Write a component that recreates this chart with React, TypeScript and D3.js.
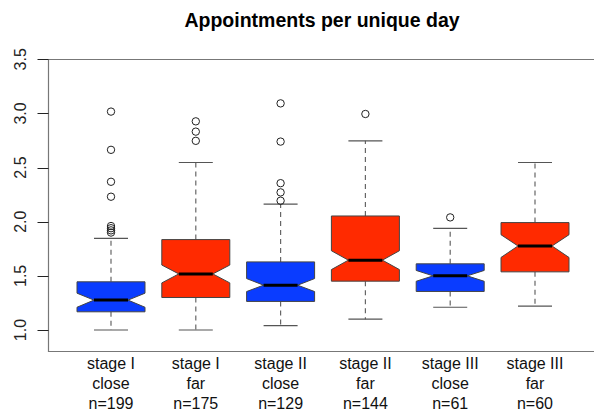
import React from "react";
import * as d3 from "d3";

const categories = ["stage I\nclose", "stage I\nfar", "stage II\nclose", "stage II\nfar", "stage III\nclose", "stage III\nfar"];
const counts = [199, 175, 129, 144, 61, 60];
const groupType = ["close", "far", "close", "far", "close", "far"];
const lowerWhisker = [1.0, 1.0, 1.04, 1.1, 1.21, 1.22];
const q1 = [1.168, 1.3, 1.264, 1.451, 1.356, 1.537];
const notchLo = [1.21, 1.435, 1.355, 1.558, 1.45, 1.67];
const median = [1.276, 1.518, 1.414, 1.645, 1.5, 1.776];
const notchHi = [1.34, 1.6, 1.475, 1.732, 1.55, 1.88];
const q3 = [1.445, 1.835, 1.629, 2.053, 1.611, 1.992];
const upperWhisker = [1.847, 2.547, 2.163, 2.747, 1.939, 2.547];
const outliers: number[][] = [
  [3.017, 2.664, 2.369, 2.231, 1.96, 1.94, 1.92, 1.9],
  [2.927, 2.832, 2.747],
  [3.093, 2.74, 2.356, 2.271, 2.194],
  [2.995],
  [2.04],
  [],
];
const yTicks = [1.0, 1.5, 2.0, 2.5, 3.0, 3.5];
const title = "Appointments per unique day";

const W = 594;
const H = 413;
const left = 48.5;
const top = 59.5;
const bottom = 351.5;
const colorMap: Record<string, string> = { close: "#0a3cff", far: "#ff2a00" };
const font = "'Liberation Sans', Arial, sans-serif";

export default function App() {
  const x = d3.scaleLinear().domain([1, 6]).range([111, 535]);
  const y = d3.scaleLinear().domain([1, 3.5]).range([330, 59.3]);
  const hw = 34; // box half width
  const nw = hw / 2; // notch inner half width
  const edge = "#444";

  return (
    <svg width={W} height={H} style={{ position: "absolute", left: 0, top: 0, background: "#fff" }}>
      <rect x={0} y={0} width={W} height={H} fill="#fff" />
      <text x={322} y={27} textAnchor="middle" fontFamily={font} fontWeight="bold" fontSize={19.5} fill="#000">
        {title}
      </text>
      {/* frame */}
      <path d={`M${W + 5},${top}H${left}V${bottom}H${W + 5}`} fill="none" stroke="#777" strokeWidth={1.2} />
      {/* y axis ticks */}
      {yTicks.map((t) => (
        <g key={t}>
          <line x1={left - 11} x2={left} y1={Math.round(y(t)) + 0.5} y2={Math.round(y(t)) + 0.5} stroke="#222" strokeWidth={1} />
          <text
            transform={`translate(25.5,${y(t)}) rotate(-90)`}
            textAnchor="middle"
            fontFamily={font}
            fontSize={16}
            fill="#222"
          >
            {t.toFixed(1)}
          </text>
        </g>
      ))}
      {categories.map((c, i) => {
        const cx = x(i + 1);
        const boxPath = [
          [cx - hw, y(q3[i])],
          [cx + hw, y(q3[i])],
          [cx + hw, y(notchHi[i])],
          [cx + nw, y(median[i])],
          [cx + hw, y(notchLo[i])],
          [cx + hw, y(q1[i])],
          [cx - hw, y(q1[i])],
          [cx - hw, y(notchLo[i])],
          [cx - nw, y(median[i])],
          [cx - hw, y(notchHi[i])],
        ] as [number, number][];
        const line = d3.line()(boxPath) + "Z";
        const lines = c.split("\n");
        return (
          <g key={c}>
            <line x1={cx} x2={cx} y1={y(q3[i])} y2={y(upperWhisker[i])} stroke="#666" strokeDasharray="5,4" strokeWidth={1.2} />
            <line x1={cx} x2={cx} y1={y(q1[i])} y2={y(lowerWhisker[i])} stroke="#666" strokeDasharray="5,4" strokeWidth={1.2} />
            <line x1={cx - nw} x2={cx + nw} y1={y(upperWhisker[i])} y2={y(upperWhisker[i])} stroke="#555" strokeWidth={1.2} />
            <line x1={cx - nw} x2={cx + nw} y1={y(lowerWhisker[i])} y2={y(lowerWhisker[i])} stroke="#555" strokeWidth={1.2} />
            <path d={line} fill={colorMap[groupType[i]]} stroke={edge} strokeWidth={1} />
            <line x1={cx - nw} x2={cx + nw} y1={y(median[i])} y2={y(median[i])} stroke="#000" strokeWidth={3} />
            {outliers[i].map((o, k) => (
              <circle key={k} cx={cx} cy={y(o)} r={3.7} fill="none" stroke="#222" strokeWidth={1} />
            ))}
            <text textAnchor="middle" fontFamily={font} fontSize={16} fill="#111">
              <tspan x={cx} y={369}>{lines[0]}</tspan>
              <tspan x={cx} y={389}>{lines[1]}</tspan>
              <tspan x={cx} y={408.5}>{`n=${counts[i]}`}</tspan>
            </text>
          </g>
        );
      })}
    </svg>
  );
}
